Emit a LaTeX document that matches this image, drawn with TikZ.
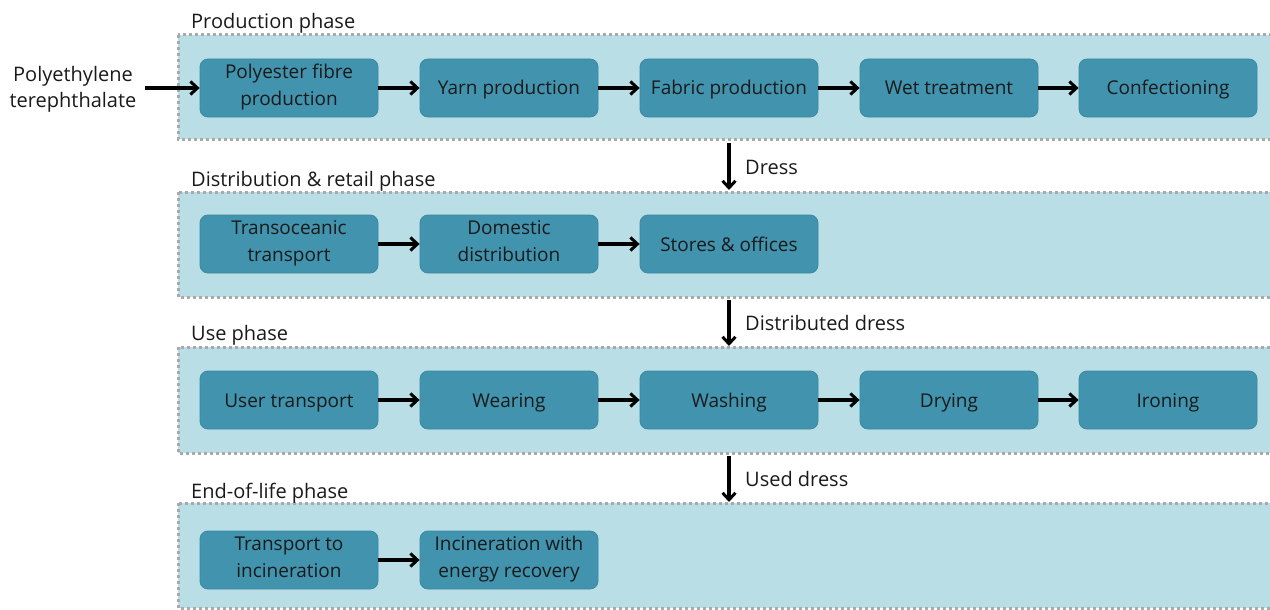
\documentclass[tikz,border=0pt]{standalone}
\usepackage{fontspec}
\setmainfont{Open Sans}
\usetikzlibrary{arrows.meta}
\definecolor{phasefill}{HTML}{B9DEE5}
\definecolor{nodefill}{HTML}{4193AE}
\definecolor{nodeline}{HTML}{3C89A3}
\definecolor{dotgray}{HTML}{A9A9A9}
\definecolor{txt}{HTML}{1A1A1A}
\newcommand\boxstrut{\rule[-6pt]{0pt}{26pt}}
\newcommand\tallstrut{\rule{0pt}{28pt}}
\tikzset{
  phase/.style={fill=phasefill, draw=dotgray, line width=3pt, dash pattern=on 3pt off 3pt},
  proc/.style={rectangle, rounded corners=8pt, fill=nodefill, draw=nodeline, line width=0.8pt,
    minimum width=178pt, minimum height=58pt, inner sep=4pt, align=center, text=txt,
    font=\fontsize{19}{26}\selectfont, execute at begin node=\boxstrut, execute at end node=\boxstrut},
  proctwo/.style={proc, inner ysep=1pt, font=\fontsize{19}{27}\selectfont, execute at begin node=\tallstrut},
  plabel/.style={anchor=west, text=txt, font=\fontsize{20}{26}\selectfont, inner sep=0pt},
  flow/.style={-{Straight Barb[length=7pt,width=13pt,line width=3pt]}, line width=3.2pt, black},
  elabel/.style={anchor=west, text=txt, font=\fontsize{20}{26}\selectfont, inner sep=0pt}
}
\begin{document}
\begin{tikzpicture}[x=1pt,y=-1pt]
\useasboundingbox (0,0) rectangle (1270,610);
% phases
\draw[phase] (178,35) rectangle (1275,139);
\draw[phase] (178,192) rectangle (1275,297);
\draw[phase] (178,347) rectangle (1275,453);
\draw[phase] (178,503) rectangle (1275,608);
\node[plabel] (lp) at (191,23) {Production phase};
\node[plabel] (ld) at (191,181) {Distribution \& retail phase};
\node[plabel] (lu) at (191,335) {Use phase};
\node[plabel] (le) at (191,493) {End-of-life phase};
% input
\node[text=txt, align=center, font=\fontsize{20}{26}\selectfont, inner sep=0pt] (pet) at (73,89.5) {Polyethylene\\terephthalate};
% row 1
\node[proctwo] (a1) at (289,88) {Polyester fibre\\production};
\node[proc] (a2) at (509,88) {Yarn production};
\node[proc] (a3) at (729,88) {Fabric production};
\node[proc] (a4) at (949,88) {Wet treatment};
\node[proc] (a5) at (1168,88) {Confectioning};
% row 2
\node[proctwo] (b1) at (289,244) {Transoceanic\\transport};
\node[proctwo] (b2) at (509,244) {Domestic\\distribution};
\node[proc] (b3) at (729,244) {Stores \& offices};
% row 3
\node[proc] (c1) at (289,400) {User transport};
\node[proc] (c2) at (509,400) {Wearing};
\node[proc] (c3) at (729,400) {Washing};
\node[proc] (c4) at (949,400) {Drying};
\node[proc] (c5) at (1168,400) {Ironing};
% row 4
\node[proctwo] (d1) at (289,560) {Transport to\\incineration};
\node[proctwo] (d2) at (509,560) {Incineration with\\energy recovery};
% horizontal flows
\draw[flow] ([xshift=8pt]pet.east |- a1.west) -- (a1.west);
\foreach \r in {a,c}{
  \draw[flow] (\r1) -- (\r2);
  \draw[flow] (\r2) -- (\r3);
  \draw[flow] (\r3) -- (\r4);
  \draw[flow] (\r4) -- (\r5);
}
\draw[flow] (b1) -- (b2);
\draw[flow] (b2) -- (b3);
\draw[flow] (d1) -- (d2);
% vertical flows
\coordinate (v1s) at (729,143); \coordinate (v1e) at (729,190);
\coordinate (v2s) at (729,300); \coordinate (v2e) at (729,346);
\coordinate (v3s) at (729,456); \coordinate (v3e) at (729,502);
\draw[flow] (v1s) -- (v1e);
\draw[flow] (v2s) -- (v2e);
\draw[flow] (v3s) -- (v3e);
\node[elabel] (t1) at (745,167) {Dress};
\node[elabel] (t2) at (745,323) {Distributed dress};
\node[elabel] (t3) at (745,479) {Used dress};
\end{tikzpicture}
\end{document}
